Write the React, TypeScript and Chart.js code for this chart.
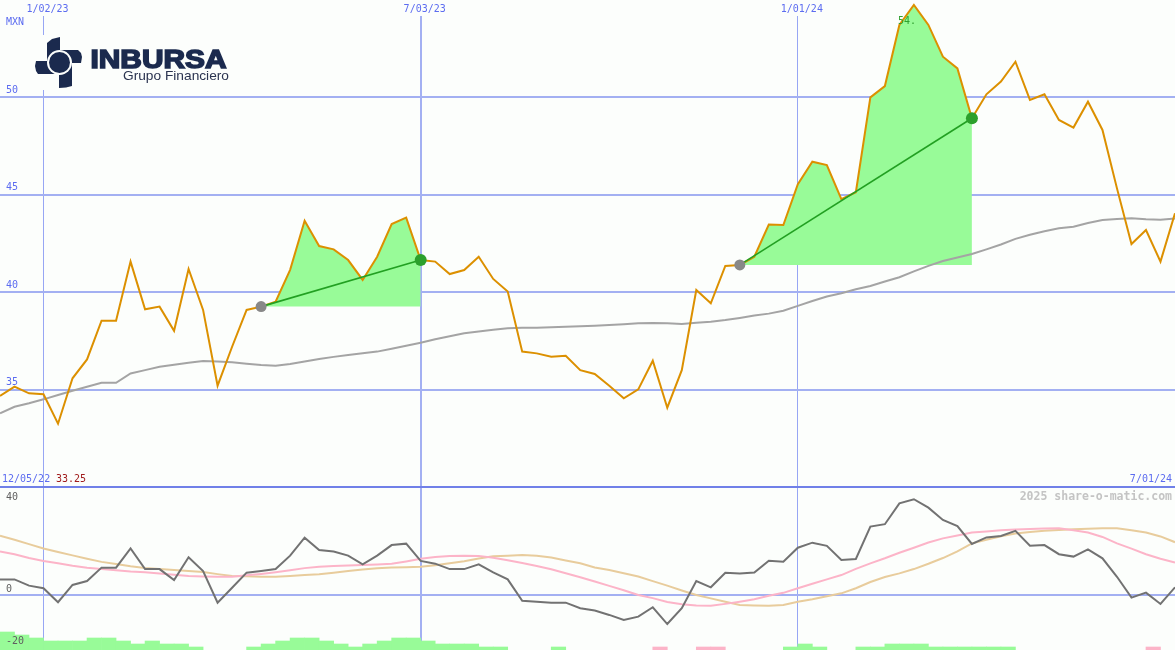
import React, { useEffect, useRef } from 'react';
import { Chart, registerables } from 'chart.js';

Chart.register(...registerables);

const WIDTH = 1175;
const TOP_HEIGHT = 487;
const BOTTOM_HEIGHT = 163;

// ---------- data ----------
const gridWeeks = [3, 29, 55];
const gridDates = ['1/02/23', '7/03/23', '1/01/24'];
const firstDate = '12/05/22';
const lastDate = '7/01/24';
const currency = 'MXN';
const priceTicks = [35, 40, 45, 50];
const oscTicks = [40, 0, -20];
const minPriceLabel = '33.25';
const maxPriceLabel = '54.';
const watermark = '2025 share-o-matic.com';

const price = [
  34.67, 35.15, 34.81, 34.76, 33.25, 35.58, 36.55, 38.54, 38.54, 41.57,
  39.12, 39.26, 38.02, 41.19, 39.09, 35.2, 37.2, 39.09, 39.26, 39.51,
  41.15, 43.67, 42.37, 42.2, 41.65, 40.63, 41.82, 43.5, 43.83, 41.65,
  41.57, 40.93, 41.14, 41.82, 40.68, 40.03, 36.95, 36.86, 36.69, 36.74,
  36.0, 35.8, 35.2, 34.55, 35.01, 36.48, 34.07, 36.0, 40.11, 39.43,
  41.35, 41.4, 41.82, 43.47, 43.45, 45.55, 46.7, 46.53, 44.78, 45.13,
  50.0, 50.58, 53.72, 54.75, 53.72, 52.09, 51.49, 48.93, 50.16, 50.81,
  51.83, 49.87, 50.16, 48.84, 48.45, 49.78, 48.33, 45.33, 42.47, 43.19,
  41.57, 44.05,
];

const movingAverage = [
  33.78, 34.12, 34.3, 34.5, 34.72, 34.94, 35.15, 35.35, 35.35, 35.83,
  36.0, 36.17, 36.28, 36.38, 36.47, 36.44, 36.4, 36.33, 36.26, 36.23,
  36.31, 36.44, 36.57, 36.68, 36.78, 36.86, 36.95, 37.1, 37.25, 37.41,
  37.58, 37.74, 37.89, 37.98, 38.07, 38.15, 38.17, 38.18, 38.2, 38.22,
  38.25, 38.28, 38.31, 38.35, 38.4, 38.42, 38.4, 38.37, 38.43, 38.48,
  38.57, 38.68, 38.8, 38.9, 39.05, 39.3, 39.55, 39.78, 39.95, 40.15,
  40.32, 40.55, 40.77, 41.07, 41.35, 41.6, 41.78, 41.96, 42.2, 42.45,
  42.74, 42.95, 43.13, 43.28, 43.36, 43.55, 43.71, 43.76, 43.79, 43.74,
  43.72, 43.79,
];

const oscMain = [
  6.5, 6.5, 3.9, 2.8, -3.0, 4.2, 5.8, 11.4, 11.4, 19.4,
  10.8, 10.8, 6.25, 15.7, 10, -3.2, 3.0, 9.3, 10, 10.8,
  16.4, 23.9, 18.75, 18.1, 16.4, 12.8, 16.4, 20.8, 21.4, 14.2,
  13.05, 10.8, 10.8, 12.8, 9.4, 6.5, -2.4, -2.8, -3.2, -3.2,
  -5.5, -6.5, -8.3, -10.4, -9.0, -5.1, -12.1, -5.5, 5.8, 3.2,
  9.3, 9.0, 9.4, 14.3, 13.9, 19.7, 21.8, 20.5, 14.6, 15,
  28.5, 29.5, 38.2, 39.9, 36.4, 31.25, 28.75, 21.25, 24, 24.6,
  26.7, 20.5, 20.8, 17, 16, 19, 15.3, 7.6, -1.1, 1.0,
  -3.75, 3.2,
];

const oscFast = [
  18.1, 17.0, 15.4, 14.2, 13.2, 12.2, 11.4, 10.8, 10.3, 9.8,
  9.5, 9.0, 8.4, 7.9, 7.7, 7.6, 7.6, 8.2, 8.8, 9.5,
  10.3, 11.2, 11.8, 12.1, 12.3, 12.5, 12.7, 13.0, 14.0, 15.1,
  15.8, 16.2, 16.4, 16.3, 15.5, 14.5, 13.3, 12.1, 10.7, 9.1,
  7.4, 5.6, 3.8, 2.0, 0.0, -1.3, -2.9, -3.9, -4.4, -4.5,
  -3.7, -2.8, -1.8, -0.3, 0.9, 2.8, 4.7, 6.5, 8.3, 10.9,
  13.2, 15.3, 17.6, 19.7, 21.9, 23.6, 24.8, 26.0, 26.5, 27.0,
  27.3, 27.5, 27.7, 27.8, 27.0, 26.0, 24.2, 21.5, 19.3, 17.0,
  15.1, 13.5,
];

const oscSlow = [
  24.7, 23.0, 21.2, 19.4, 17.9, 16.5, 15.1, 13.8, 12.9, 12.0,
  11.3, 10.8, 10.4, 10.0, 9.6, 8.7, 7.9, 7.8, 7.6, 7.6,
  7.9, 8.3, 8.6, 9.3, 10.0, 10.6, 11.1, 11.5, 11.6, 11.8,
  12.4, 13.2, 14.1, 15.2, 16.1, 16.4, 16.7, 16.4, 15.6, 14.4,
  13.2, 11.5, 10.4, 9.1, 7.7, 5.8, 3.9, 1.9, 0.0, -1.4,
  -2.8, -4.2, -4.4, -4.5, -4.2, -2.8, -1.8, -0.5, 0.7, 2.8,
  5.4, 7.5, 9.0, 10.8, 13.0, 15.4, 18.2, 21.5, 23.0, 24.5,
  25.6, 26.2, 26.8, 27.1, 27.4, 27.6, 27.8, 27.8, 27.0, 26.0,
  24.4, 22.0,
];

const histogram = [
  6, 5, 4, 3, 3, 3, 4, 4, 3, 2,
  3, 2, 2, 1, 0, 0, 0, 1, 2, 3,
  4, 4, 3, 2, 1, 2, 3, 4, 4, 3,
  2, 2, 2, 1, 1, 0, 0, 0, 1, 0,
  0, 0, 0, 0, 0, -1, 0, 0, -1, -1,
  0, 0, 0, 0, 1, 2, 1, 0, 0, 1,
  1, 2, 2, 2, 1, 1, 1, 1, 1, 1,
  0, 0, 0, 0, 0, 0, 0, 0, 0, -1,
  0,
];

const trendStarts = [18, 51];
const trendEnds = [29, 67];

// ---------- styles ----------
const BG = '#fcfefc';
const GRID = '#a3b0f2';
const GRID_THIN = '#97a6f4';
const SEPARATOR = '#7080e8';
const LABEL_BLUE = '#5c6cf0';
const PRICE_COLOR = '#dc9000';
const MA_COLOR = '#a4a4a4';
const FILL_GREEN = '#98fb98';
const TREND_GREEN = '#22a022';
const DOT_GRAY = '#888888';
const DOT_GREEN = '#2ca02c';
const OSC_MAIN = '#727272';
const OSC_FAST = '#fcb4c8';
const OSC_SLOW = '#e8cc9c';
const BAR_PINK = '#fcb4c8';
const MONO = '"DejaVu Sans Mono", monospace';

const pts = (arr: number[], start = 0) => arr.map((v, i) => ({ x: i + start, y: v }));

const isThick = (c: any) => c.tick && c.tick.value === gridWeeks[1];

const xAxis = () => ({
  type: 'linear',
  min: 0,
  max: price.length - 1,
  offset: false,
  afterBuildTicks: (axis: any) => {
    axis.ticks = gridWeeks.map((v) => ({ value: v }));
  },
  grid: {
    color: (c: any) => (isThick(c) ? GRID : GRID_THIN),
    lineWidth: (c: any) => (isThick(c) ? 2 : 1),
    drawTicks: false,
    offset: false,
  },
  ticks: { display: false },
  border: { display: false },
});

function fitText(ctx: CanvasRenderingContext2D, text: string, x: number, y: number, width: number, stroke = false) {
  const w = ctx.measureText(text).width;
  ctx.save();
  ctx.translate(x, y);
  ctx.scale(width / w, 1);
  ctx.fillText(text, 0, 0);
  if (stroke) ctx.strokeText(text, 0, 0);
  ctx.restore();
}

function poly(ctx: CanvasRenderingContext2D, p: number[][]) {
  ctx.beginPath();
  ctx.moveTo(p[0][0], p[0][1]);
  for (let i = 1; i < p.length; i++) ctx.lineTo(p[i][0], p[i][1]);
  ctx.closePath();
  ctx.fill();
}

function drawLogo(ctx: CanvasRenderingContext2D) {
  ctx.save();
  ctx.fillStyle = BG;
  ctx.fillRect(30, 35, 205, 55);
  const navy = '#1b2a4e';
  ctx.fillStyle = navy;
  poly(ctx, [[47, 43], [52, 39], [60, 37], [60, 62], [47, 62]]);
  poly(ctx, [[60, 50], [78, 50], [81, 53], [82, 57], [81, 63], [60, 63]]);
  poly(ctx, [[59, 62], [72, 62], [72, 86], [66, 87.5], [59, 88]]);
  poly(ctx, [[36, 61], [59, 61], [59, 74], [38, 74], [36, 71], [35, 66]]);
  ctx.fillStyle = BG;
  ctx.beginPath();
  ctx.arc(59.5, 62.5, 12.5, 0, Math.PI * 2);
  ctx.fill();
  ctx.fillStyle = navy;
  ctx.beginPath();
  ctx.arc(59.5, 62.5, 10.5, 0, Math.PI * 2);
  ctx.fill();
  ctx.fillStyle = navy;
  ctx.strokeStyle = navy;
  ctx.lineWidth = 1.5;
  ctx.textBaseline = 'alphabetic';
  ctx.textAlign = 'left';
  ctx.font = 'bold 25px "Liberation Sans", Arial, sans-serif';
  fitText(ctx, 'INBURSA', 90.5, 68, 136, true);
  ctx.fillStyle = '#2b3450';
  ctx.font = '13px "Liberation Sans", Arial, sans-serif';
  fitText(ctx, 'Grupo Financiero', 123, 79.5, 106);
  ctx.restore();
}

const topDecor = {
  id: 'topDecor',
  beforeDraw(chart: any) {
    const ctx = chart.ctx;
    ctx.save();
    ctx.fillStyle = BG;
    ctx.fillRect(0, 0, chart.width, chart.height);
    ctx.restore();
  },
  beforeDatasetsDraw(chart: any) {
    const ctx = chart.ctx;
    const xs = chart.scales.x;
    ctx.save();
    ctx.fillStyle = BG;
    gridWeeks.forEach((w) => {
      const px = xs.getPixelForValue(w);
      ctx.fillRect(px - 3, 0, 6, 16);
    });
    ctx.restore();
    drawLogo(ctx);
  },
  afterDraw(chart: any) {
    const ctx = chart.ctx;
    const xs = chart.scales.x;
    const ys = chart.scales.y;
    ctx.save();
    ctx.font = '10px ' + MONO;
    ctx.textBaseline = 'middle';
    ctx.fillStyle = LABEL_BLUE;
    ctx.textAlign = 'center';
    gridWeeks.forEach((w, i) => {
      ctx.fillText(gridDates[i], xs.getPixelForValue(w) + 4, 9);
    });
    ctx.textAlign = 'left';
    ctx.fillText(currency, 6, 22);
    priceTicks.forEach((v) => {
      ctx.fillText(String(v), 6, ys.getPixelForValue(v) - 7);
    });
    ctx.fillText(firstDate, 2, 479);
    ctx.fillStyle = '#a01c1c';
    ctx.fillText(minPriceLabel, 56, 479);
    ctx.fillStyle = LABEL_BLUE;
    ctx.textAlign = 'right';
    ctx.fillText(lastDate, 1172, 479);
    ctx.textAlign = 'left';
    ctx.fillStyle = '#30a030';
    let maxIdx = 0;
    price.forEach((v, i) => { if (v > price[maxIdx]) maxIdx = i; });
    ctx.fillText(maxPriceLabel, xs.getPixelForValue(maxIdx) - 16, 21);
    ctx.fillStyle = SEPARATOR;
    ctx.fillRect(0, chart.height - 1, chart.width, 1);
    ctx.restore();
  },
};

const bottomDecor = {
  id: 'bottomDecor',
  beforeDraw(chart: any) {
    const ctx = chart.ctx;
    ctx.save();
    ctx.fillStyle = BG;
    ctx.fillRect(0, 0, chart.width, chart.height);
    ctx.restore();
  },
  afterDraw(chart: any) {
    const ctx = chart.ctx;
    const ys = chart.scales.y;
    ctx.save();
    ctx.fillStyle = SEPARATOR;
    ctx.fillRect(0, 0, chart.width, 1);
    ctx.font = '10px ' + MONO;
    ctx.textBaseline = 'middle';
    ctx.textAlign = 'left';
    ctx.fillStyle = '#606060';
    oscTicks.forEach((v) => {
      const off = v === 0 ? -6 : -2;
      ctx.fillText(String(v), 6, ys.getPixelForValue(v) + off);
    });
    ctx.font = 'bold 11.5px ' + MONO;
    ctx.textAlign = 'right';
    ctx.fillStyle = '#c4c4c4';
    ctx.fillText(watermark, 1172, 10);
    ctx.restore();
  },
};

export default function App() {
  const topRef = useRef<HTMLCanvasElement | null>(null);
  const bottomRef = useRef<HTMLCanvasElement | null>(null);

  useEffect(() => {
    if (!topRef.current || !bottomRef.current) return;

    const fillSets = trendStarts.map((s, k) => ({
      type: 'line',
      data: pts(price.slice(s, trendEnds[k] + 1), s),
      borderWidth: 0,
      borderColor: 'rgba(0,0,0,0)',
      backgroundColor: FILL_GREEN,
      fill: { value: price[s] },
      pointRadius: 0,
      order: 6,
    }));
    const trendSets = trendStarts.map((s, k) => ({
      type: 'line',
      data: [
        { x: s, y: price[s] },
        { x: trendEnds[k], y: price[trendEnds[k]] },
      ],
      borderColor: TREND_GREEN,
      borderWidth: 1.6,
      pointRadius: 0,
      fill: false,
      order: 2,
    }));
    const dotData: { x: number; y: number }[] = [];
    const dotColors: string[] = [];
    const dotRadii: number[] = [];
    trendStarts.forEach((s, k) => {
      dotData.push({ x: s, y: price[s] });
      dotColors.push(DOT_GRAY);
      dotRadii.push(5.5);
      dotData.push({ x: trendEnds[k], y: price[trendEnds[k]] });
      dotColors.push(DOT_GREEN);
      dotRadii.push(6);
    });

    const top = new Chart(topRef.current, {
      type: 'line',
      data: {
        datasets: [
          {
            type: 'line',
            data: dotData,
            showLine: false,
            pointRadius: dotRadii,
            pointBackgroundColor: dotColors,
            pointBorderWidth: 0,
            order: 1,
          },
          ...trendSets,
          {
            type: 'line',
            data: pts(price),
            borderColor: PRICE_COLOR,
            borderWidth: 2,
            pointRadius: 0,
            fill: false,
            order: 3,
          },
          {
            type: 'line',
            data: pts(movingAverage),
            borderColor: MA_COLOR,
            borderWidth: 2,
            pointRadius: 0,
            fill: false,
            order: 5,
          },
          ...fillSets,
        ] as any,
      },
      options: {
        animation: false,
        responsive: false,
        devicePixelRatio: 1,
        events: [],
        layout: { padding: 0, autoPadding: false },
        scales: {
          x: xAxis() as any,
          y: {
            type: 'linear',
            min: 30,
            max: 55,
            afterBuildTicks: (axis: any) => {
              axis.ticks = priceTicks.map((v) => ({ value: v }));
            },
            grid: { color: GRID, lineWidth: 2, drawTicks: false },
            ticks: { display: false },
            border: { display: false },
          },
        },
        plugins: { legend: { display: false }, tooltip: { enabled: false } },
      },
      plugins: [topDecor],
    } as any);

    const bottom = new Chart(bottomRef.current, {
      type: 'line',
      data: {
        datasets: [
          {
            type: 'line',
            data: pts(oscMain),
            borderColor: OSC_MAIN,
            borderWidth: 2,
            pointRadius: 0,
            order: 1,
          },
          {
            type: 'line',
            data: pts(oscFast),
            borderColor: OSC_FAST,
            borderWidth: 2,
            pointRadius: 0,
            order: 2,
          },
          {
            type: 'line',
            data: pts(oscSlow),
            borderColor: OSC_SLOW,
            borderWidth: 2,
            pointRadius: 0,
            order: 3,
          },
          {
            type: 'bar',
            yAxisID: 'yh',
            data: histogram.map((v, k) => ({ x: k + 0.5, y: v === 0 ? null : Math.abs(v) })),
            backgroundColor: histogram.map((v) => (v < 0 ? BAR_PINK : FILL_GREEN)),
            borderWidth: 0,
            barPercentage: 1,
            categoryPercentage: 1,
            order: 4,
          },
        ] as any,
      },
      options: {
        animation: false,
        responsive: false,
        devicePixelRatio: 1,
        events: [],
        layout: { padding: 0, autoPadding: false },
        scales: {
          x: xAxis() as any,
          y: {
            type: 'linear',
            min: -22.9167,
            max: 45,
            afterBuildTicks: (axis: any) => {
              axis.ticks = [{ value: 0 }];
            },
            grid: { color: GRID, lineWidth: 2, drawTicks: false },
            ticks: { display: false },
            border: { display: false },
          },
          yh: {
            type: 'linear',
            display: false,
            min: 0,
            max: BOTTOM_HEIGHT / 3,
          },
        },
        plugins: { legend: { display: false }, tooltip: { enabled: false } },
      },
      plugins: [bottomDecor],
    } as any);

    return () => {
      top.destroy();
      bottom.destroy();
    };
  }, []);

  return (
    <div style={{ position: 'absolute', left: 0, top: 0, width: WIDTH, height: TOP_HEIGHT + BOTTOM_HEIGHT, background: BG }}>
      <canvas ref={topRef} width={WIDTH} height={TOP_HEIGHT} style={{ display: 'block', width: WIDTH, height: TOP_HEIGHT }} />
      <canvas ref={bottomRef} width={WIDTH} height={BOTTOM_HEIGHT} style={{ display: 'block', width: WIDTH, height: BOTTOM_HEIGHT }} />
    </div>
  );
}
